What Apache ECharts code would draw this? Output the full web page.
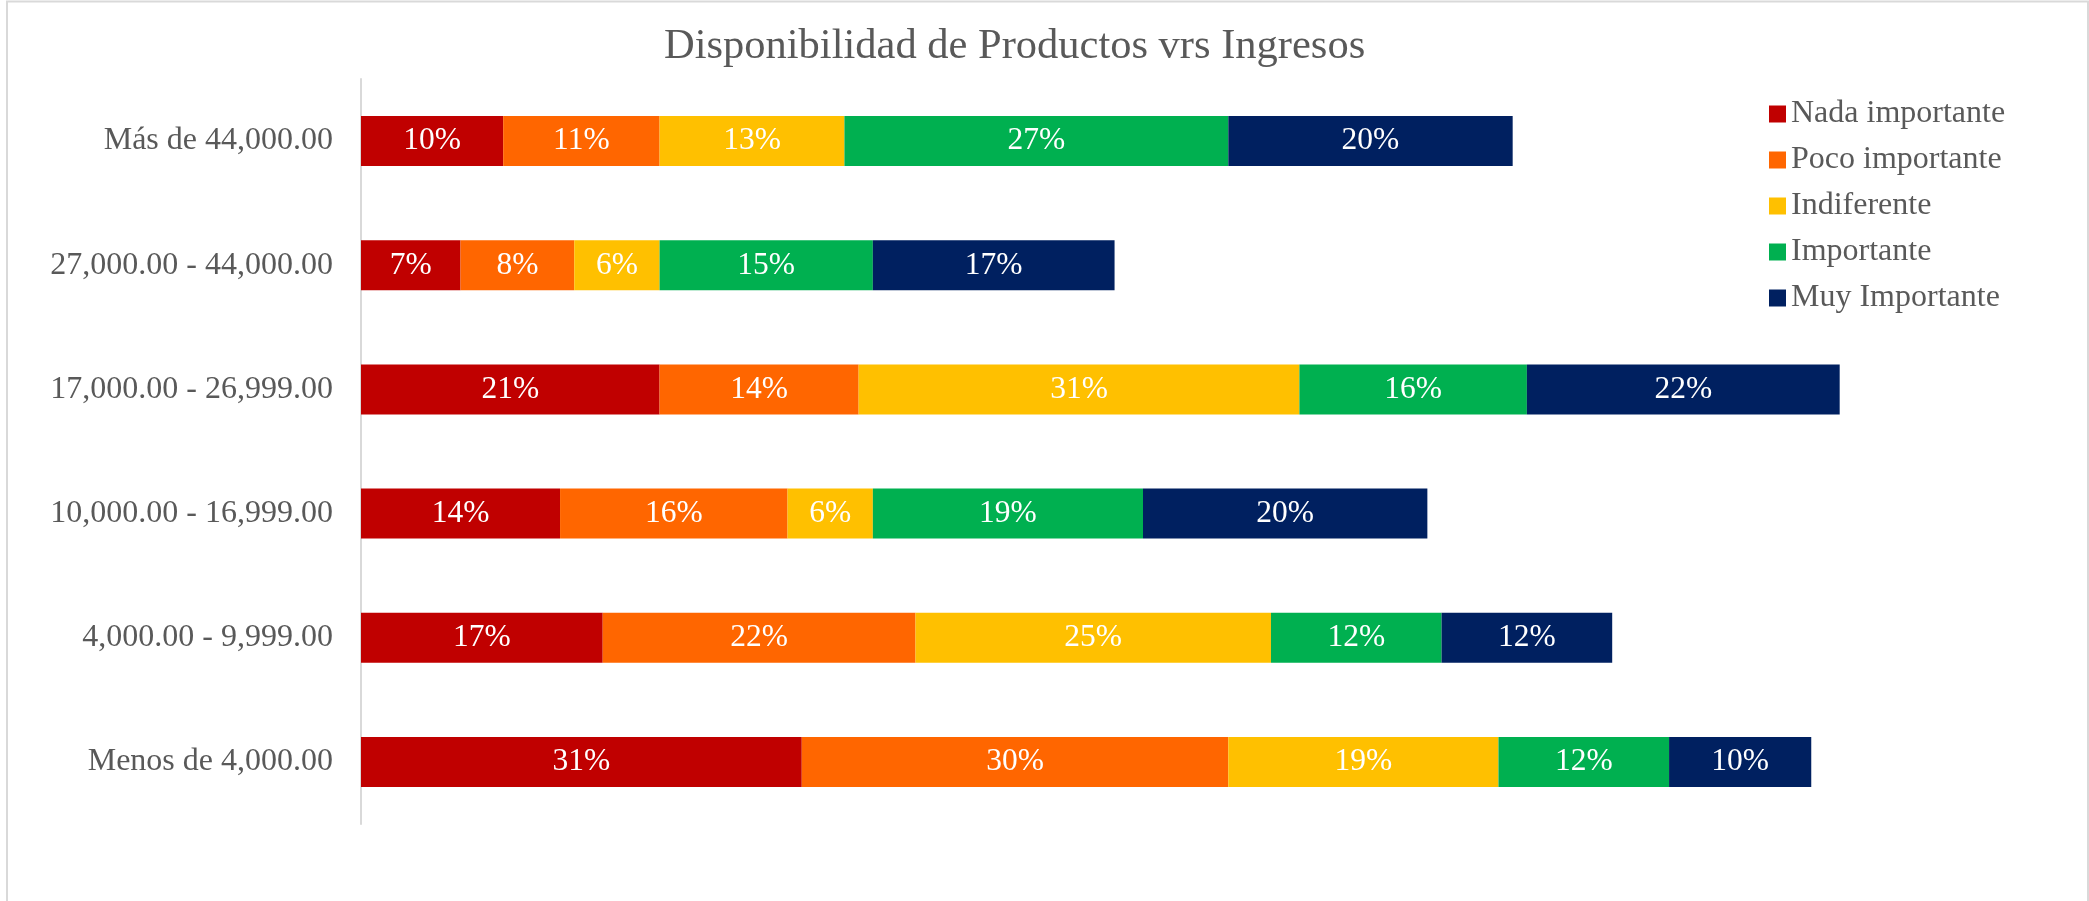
<!DOCTYPE html>
<html>
<head>
<meta charset="utf-8">
<title>Disponibilidad de Productos vrs Ingresos</title>
<script src="https://cdn.jsdelivr.net/npm/echarts@6/dist/echarts.min.js"></script>
<style>
  html, body { margin: 0; padding: 0; background: #ffffff; }
  #chart { width: 2089px; height: 901px; }
</style>
</head>
<body>
<div id="chart"></div>
<script>
// Income brackets, listed bottom to top as they appear on the category axis
const categories = [
  'Menos de 4,000.00',
  '4,000.00 - 9,999.00',
  '10,000.00 - 16,999.00',
  '17,000.00 - 26,999.00',
  '27,000.00 - 44,000.00',
  'Más de 44,000.00'
];

// Share (%) of each response per income bracket
const nadaImportante  = [31, 17, 14, 21, 7, 10];
const pocoImportante  = [30, 22, 16, 14, 8, 11];
const indiferente     = [19, 25, 6, 31, 6, 13];
const importante      = [12, 12, 19, 16, 15, 27];
const muyImportante   = [10, 12, 20, 22, 17, 20];

const seriesNames = ['Nada importante', 'Poco importante', 'Indiferente', 'Importante', 'Muy Importante'];
const seriesValues = [nadaImportante, pocoImportante, indiferente, importante, muyImportante];
const seriesColors = ['#C00000', '#FF6600', '#FFC000', '#00B050', '#002060'];

const FONT = "'Liberation Serif', 'Times New Roman', serif";
const TEXT_GREY = '#595959';

const chart = echarts.init(document.getElementById('chart'), null, { renderer: 'canvas' });

const series = seriesNames.map((name, i) => ({
  name: name,
  type: 'bar',
  stack: 'total',
  barWidth: 50,
  data: seriesValues[i],
  itemStyle: { color: seriesColors[i] },
  label: {
    show: true,
    position: 'inside',
    formatter: p => p.value + '%',
    color: '#ffffff',
    fontFamily: FONT,
    fontSize: 31.5
  },
  emphasis: { disabled: true }
}));

chart.setOption({
  backgroundColor: '#ffffff',
  animation: false,
  title: {
    text: 'Disponibilidad de Productos vrs Ingresos',
    left: 659,
    top: 20,
    textStyle: {
      fontFamily: FONT,
      fontSize: 42.5,
      fontWeight: 'normal',
      color: TEXT_GREY
    }
  },
  legend: {
    orient: 'vertical',
    left: 1764,
    top: 93,
    itemWidth: 17,
    itemHeight: 17,
    itemGap: 14,
    icon: 'rect',
    data: seriesNames,
    textStyle: {
      fontFamily: FONT,
      fontSize: 32,
      lineHeight: 32,
      color: TEXT_GREY,
      padding: [0, 0, 0, 0]
    }
  },
  grid: {
    left: 361,
    top: 79,
    width: 1564,
    height: 745,
    containLabel: false
  },
  xAxis: {
    type: 'value',
    min: 0,
    max: 110,
    show: false
  },
  yAxis: {
    type: 'category',
    data: categories,
    axisLine: { show: true, lineStyle: { color: '#D9D9D9', width: 2 } },
    axisTick: { show: false },
    splitLine: { show: false },
    axisLabel: {
      margin: 28,
      fontFamily: FONT,
      fontSize: 32,
      color: TEXT_GREY
    }
  },
  graphic: [{
    type: 'polyline',
    shape: { points: [[7, 901], [7, 1.5], [2088, 1.5], [2088, 901]] },
    style: { stroke: '#D9D9D9', lineWidth: 2, fill: null },
    silent: true
  }],
  series: series
});
</script>
</body>
</html>
